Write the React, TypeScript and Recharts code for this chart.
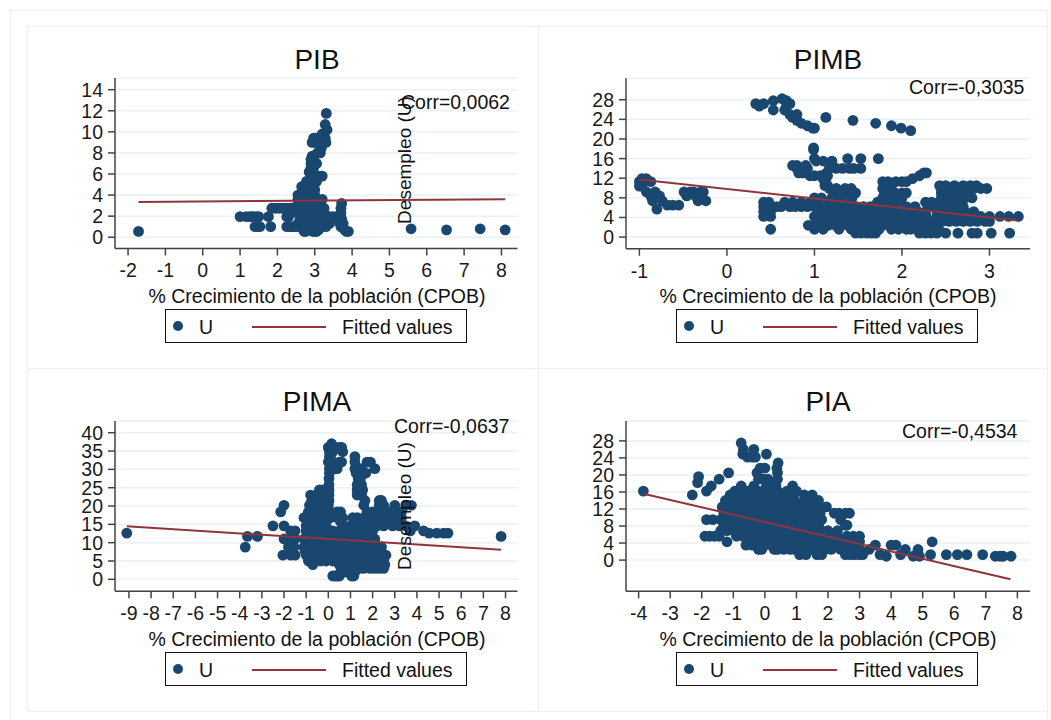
import React from 'react';
import { ScatterChart, Scatter, XAxis, YAxis, CartesianGrid } from 'recharts';

type Rows = [number, number[]][];
const FONT = '"Liberation Sans", Arial, sans-serif';
const NAVY = '#1a476f';
const MAROON = '#90353b';
const PALE = '#eaf2f3';

const panelTitles = ['PIB', 'PIMB', 'PIMA', 'PIA'];
const corrLabels = ['Corr=0,0062', 'Corr=-0,3035', 'Corr=-0,0637', 'Corr=-0,4534'];
const xAxisTitle = '% Crecimiento de la población (CPOB)';
const yAxisTitle = 'Desempleo (U)';
const legendLabels = ['U', 'Fitted values'];

const pibXTicks = [-2, -1, 0, 1, 2, 3, 4, 5, 6, 7, 8];
const pibYTicks = [0, 2, 4, 6, 8, 10, 12, 14];
const pimbXTicks = [-1, 0, 1, 2, 3];
const pimbYTicks = [0, 4, 8, 12, 16, 20, 24, 28];
const pimaXTicks = [-9, -8, -7, -6, -5, -4, -3, -2, -1, 0, 1, 2, 3, 4, 5, 6, 7, 8];
const pimaYTicks = [0, 5, 10, 15, 20, 25, 30, 35, 40];
const piaXTicks = [-4, -3, -2, -1, 0, 1, 2, 3, 4, 5, 6, 7, 8];
const piaYTicks = [0, 4, 8, 12, 16, 20, 24, 28];

const pibFitX = [-1.72, 8.1];
const pibFitY = [3.35, 3.6];
const pimbFitX = [-1, 3.32];
const pimbFitY = [11.75, 3.4];
const pimaFitX = [-9.1, 7.8];
const pimaFitY = [14.45, 8.1];
const piaFitX = [-3.85, 7.78];
const piaFitY = [15.6, -4.5];

// each row: [U, list of CPOB values read at that height]
const pibRows: Rows = [
  [0.55, [-1.72, 2.72, 2.75, 2.95, 3.0, 3.05, 3.85, 3.9]],
  [0.7, [6.53, 8.1, 2.7, 2.9, 3.1, 3.8]],
  [0.8, [5.58, 7.43]],
  [1.0, [1.4, 1.47, 1.53, 1.82, 2.25, 2.33, 2.4, 2.5, 2.6, 2.7, 2.8, 2.9, 3.0, 3.1, 3.2, 3.3, 3.7, 3.75]],
  [1.3, [2.55, 2.65, 2.8, 2.95, 3.1, 3.25, 3.4, 3.68, 3.76]],
  [1.7, [2.65, 2.8, 2.95, 3.1, 3.25, 3.68, 3.72]],
  [1.95, [1.0, 1.17, 1.27, 1.33, 1.43, 1.5, 1.76, 2.25, 2.3, 2.6, 2.75, 2.9, 3.05, 3.2, 3.3, 3.4, 3.5, 3.6, 3.7]],
  [2.3, [2.55, 2.7, 2.85, 3.0, 3.15, 3.25, 3.7]],
  [2.75, [1.85, 1.95, 2.05, 2.15, 2.25, 2.35, 2.45, 2.55, 2.7, 2.85, 3.0, 3.15, 3.25, 3.7]],
  [3.2, [2.55, 2.7, 2.85, 3.0, 3.15, 3.72]],
  [3.6, [2.55, 2.7, 2.85, 3.0, 3.2]],
  [4.0, [2.55, 2.65, 2.8, 2.95, 3.0]],
  [4.5, [2.75, 2.9, 3.0]],
  [4.8, [2.65, 2.72, 2.95]],
  [5.3, [2.78, 2.95, 3.05]],
  [5.8, [2.9, 3.0, 3.1, 3.2]],
  [6.2, [2.85, 2.95]],
  [6.6, [2.9, 2.97]],
  [7.0, [2.9, 3.0, 3.05]],
  [7.4, [2.9, 2.95]],
  [7.7, [2.93, 2.98]],
  [8.0, [3.07, 3.15]],
  [8.5, [3.18]],
  [9.0, [2.93, 3.0, 3.05, 3.2, 3.3]],
  [9.4, [2.97, 3.05, 3.15, 3.28]],
  [9.8, [3.2]],
  [10.2, [3.33]],
  [10.7, [3.28]],
  [11.75, [3.31]],
];

const pimbRows: Rows = [
  [0.8, [1.47, 1.53, 1.6, 1.65, 1.7, 2.2, 2.27, 2.33, 2.4, 2.5, 2.64, 2.8, 2.86, 3.02, 3.23]],
  [1.6, [0.5, 1.0, 1.1, 1.28, 1.42, 1.5, 1.58, 1.66, 1.74, 1.88, 1.96, 2.05, 2.1, 2.18, 2.26, 2.34, 2.42]],
  [2.4, [0.93, 1.0, 1.08, 1.16, 1.24, 1.3, 1.38, 1.46, 1.54, 1.62, 1.7, 1.78, 1.86, 1.94, 2.02, 2.1, 2.18, 2.26, 2.34]],
  [3.2, [1.02, 1.1, 1.18, 1.26, 1.34, 1.42, 1.5, 1.58, 1.66, 1.74, 1.82, 1.9, 1.98, 2.06, 2.14, 2.22, 2.3, 2.38, 2.46, 2.54, 2.62, 2.7, 2.78, 2.86, 2.95, 3.0]],
  [4.2, [0.42, 0.5, 1.0, 1.08, 1.16, 1.24, 1.32, 1.4, 1.48, 1.56, 1.64, 1.72, 1.8, 1.88, 1.96, 2.04, 2.12, 2.2, 2.28, 2.4, 2.48, 2.56, 2.64, 2.72, 2.8, 2.9, 3.0, 3.12, 3.22, 3.33]],
  [5.2, [0.42, 0.5, 1.05, 1.13, 1.21, 1.29, 1.37, 1.45, 1.53, 1.61, 1.69, 1.77, 1.85, 1.93, 2.01, 2.1, 2.18, 2.27, 2.4, 2.48, 2.56, 2.64, 2.72, 2.82]],
  [6.2, [0.42, 0.5, 0.57, 0.62, 0.72, 0.78, 0.85, 0.92, 1.0, 1.08, 1.16, 1.24, 1.32, 1.4, 1.48, 1.56, 1.64, 1.72, 1.8, 1.88, 2.05, 2.15, 2.3, 2.38, 2.46, 2.54, 2.62, 2.7]],
  [7.1, [0.42, 0.48, 0.66, 0.75, 0.85, 0.95, 1.03, 1.12, 1.2, 1.3, 1.4, 1.72, 1.8, 1.95, 2.27, 2.34, 2.42, 2.5, 2.56, 2.68]],
  [8.0, [1.0, 1.08, 1.2, 1.3, 1.43, 1.78, 1.9, 2.0, 2.45, 2.53, 2.62, 2.72, 2.8]],
  [9.0, [1.27, 1.35, 1.4, 1.47, 1.8, 1.92, 2.0, 2.05, 2.45, 2.52, 2.6, 2.68, 2.76]],
  [9.9, [1.17, 1.25, 1.35, 1.42, 1.78, 1.87, 2.45, 2.52, 2.6, 2.68, 2.75, 2.82, 2.9, 2.97]],
  [10.5, [1.12, 1.15, 1.83, 1.88, 2.43, 2.5, 2.6, 2.7, 2.78, 2.85]],
  [11.3, [-1.0, -0.87, 1.12, 1.78, 1.84, 1.93, 2.0, 2.05]],
  [11.9, [-0.97, -0.92, 1.1, 1.13, 2.12]],
  [12.5, [0.95, 1.0, 1.07, 1.15, 2.2]],
  [13.1, [0.82, 0.87, 1.14, 2.25, 2.28]],
  [14.0, [0.8, 0.92, 1.17, 1.25, 1.32, 1.4, 1.45, 1.53]],
  [14.6, [0.75, 0.8, 0.9, 1.18]],
  [15.5, [1.02, 1.1, 1.2]],
  [16.0, [1.0, 1.38, 1.53, 1.73]],
  [17.8, [0.99]],
  [18.2, [0.99]],
  [10.4, [-1.0, -0.97]],
  [9.2, [-0.92, -0.82, -0.49, -0.42, -0.38, -0.3, -0.27]],
  [8.4, [-0.87, -0.77, -0.46, -0.36]],
  [7.4, [-0.85, -0.74, -0.33, -0.24]],
  [6.5, [-0.68, -0.62, -0.55]],
  [5.7, [-0.8]],
  [21.7, [2.1]],
  [22.2, [0.98, 1.0, 1.99]],
  [22.7, [0.92, 1.88]],
  [23.2, [0.85, 1.7]],
  [23.8, [0.8, 1.44]],
  [24.4, [0.75, 1.13]],
  [25.0, [0.72, 0.8]],
  [25.9, [0.53, 0.66]],
  [26.7, [0.37, 0.68]],
  [27.2, [0.33, 0.42, 0.72]],
  [27.8, [0.53, 0.68]],
  [28.2, [0.63]],
];

const pimaRows: Rows = [
  [0.9, [0.2, 0.3, 0.4, 0.5, 1.05, 1.15]],
  [2.0, [0.55, 0.7, 0.85, 1.0, 1.2]],
  [3.0, [0.65, 0.85, 1.0, 1.2, 1.4, 1.6, 1.9, 2.1, 2.3, 2.5]],
  [4.0, [-0.7, 0.5, 0.75, 1.1, 1.45, 1.75, 2.0, 2.4, 2.55]],
  [5.0, [-0.9, -0.6, -0.35, -0.1, 0.2, 0.5, 0.8, 1.0, 1.3, 1.6, 1.9, 2.2, 2.5]],
  [5.8, [-0.75, -0.2, 0.35, 0.65, 1.15, 1.45, 1.75, 2.05, 2.35]],
  [6.6, [-2.05, -1.7, -1.5, -1.0, -0.7, -0.4, -0.1, 0.2, 0.5, 0.8, 1.1, 1.4, 1.7, 2.0, 2.3, 2.6]],
  [7.7, [-1.05, -0.65, -0.35, -0.05, 0.25, 0.55, 0.85, 1.15, 1.45, 1.75, 2.05]],
  [8.8, [-3.75, -1.8, -1.55, -1.1, -0.8, -0.5, -0.2, 0.1, 0.4, 0.7, 1.0, 1.3, 1.6, 1.9, 2.2, 2.4]],
  [9.9, [-1.6, -0.95, -0.65, -0.35, -0.05, 0.25, 0.55, 0.85, 1.15, 1.45, 1.75, 2.05]],
  [11.0, [-2.0, -1.7, -1.5, -1.1, -0.8, -0.5, -0.2, 0.1, 0.4, 0.7, 1.0, 1.3, 1.6, 1.9, 2.1]],
  [11.7, [-3.65, -3.2, 7.8, -0.95, -0.35, 0.25, 0.85, 1.45]],
  [12.6, [-9.1, 4.55, 4.9, 5.2, 5.4, -0.65, -0.05, 0.55, 1.15, 1.75]],
  [13.2, [-1.7, -1.5, -1.0, -0.7, -0.4, -0.1, 0.2, 0.5, 0.8, 1.1, 1.4, 1.7, 2.0, 3.7, 4.3]],
  [14.6, [-2.5, -2.0, -1.0, -0.7, -0.4, -0.1, 0.7, 1.0, 1.3, 1.6, 1.9, 2.2, 2.5, 2.9, 3.2, 3.5, 3.9]],
  [15.8, [-0.85, -0.55, -0.25, 0.55, 1.45, 1.75, 2.05, 2.6, 2.85]],
  [16.8, [-1.1, -0.8, -0.5, -0.2, 0.1, 0.4, 0.65, 1.1, 1.3, 1.6, 1.85, 2.1, 2.4, 2.7, 3.0, 3.3]],
  [18.4, [-2.15, -0.9, -0.65, -0.4, -0.15, 0.1, 0.4, 0.55, 1.75, 2.0, 2.3, 2.7, 3.0, 3.3]],
  [20.2, [-2.0, -0.85, -0.6, -0.35, -0.1, 0.0, 1.6, 2.3, 2.5, 3.0, 3.5, 3.75]],
  [21.5, [-0.75, -0.5, -0.3, 0.03, 1.65, 2.3, 2.4]],
  [23.0, [-0.8, -0.55, -0.3, -0.15, 0.03, 1.3, 1.5]],
  [24.4, [-0.4, -0.25, 0.03, 1.3, 1.55]],
  [25.8, [0.03, 1.3, 1.5]],
  [27.5, [0.03, 1.35, 1.45]],
  [29.0, [0.05, 1.6, 1.7, 1.25]],
  [30.2, [0.05, 0.3, 0.4, 1.2, 1.3, 1.5, 2.1]],
  [32.0, [0.0, 0.15, 0.5, 0.6, 1.2, 1.75, 1.9]],
  [33.5, [0.05, 0.1, 1.2]],
  [34.8, [0.05, 0.2, 0.65]],
  [36.0, [0.0, 0.1, 0.2, 0.3, 0.5, 0.6]],
  [37.0, [0.15]],
];

const piaRows: Rows = [
  [0.9, [3.85, 4.7, 4.9, 7.3, 7.45, 7.55, 7.8]],
  [1.3, [1.1, 1.3, 1.65, 1.8, 2.55, 2.7, 2.85, 3.0, 3.1, 3.65, 4.3, 5.25, 5.75, 6.1, 6.4, 6.9]],
  [2.5, [-0.2, -0.1, 0.3, 0.4, 0.6, 0.8, 0.95, 1.1, 1.3, 1.5, 1.7, 1.9, 2.1, 2.4, 2.5, 2.6, 2.75, 3.0, 3.3, 4.45, 4.85]],
  [3.5, [-0.6, -0.4, -0.2, 0.0, 0.2, 0.4, 0.6, 0.8, 1.0, 1.2, 1.4, 1.6, 1.8, 2.0, 2.2, 2.4, 2.6, 3.5, 4.0, 4.15]],
  [4.3, [-1.2, -0.5, -0.3, -0.1, 0.1, 0.3, 0.5, 0.7, 0.9, 1.1, 1.3, 1.5, 1.7, 1.9, 2.1, 2.5, 2.7, 2.9, 3.0, 5.3]],
  [5.6, [-1.9, -1.75, -1.6, -1.45, -0.9, -0.7, -0.5, -0.3, -0.1, 0.1, 0.3, 0.5, 0.7, 0.9, 1.1, 1.3, 1.5, 1.7, 1.9, 2.1, 2.3, 2.6, 2.8, 3.0]],
  [6.9, [-1.4, -1.2, -1.0, -0.8, -0.6, -0.4, -0.2, 0.0, 0.2, 0.4, 0.6, 0.8, 1.0, 1.2, 1.4, 1.6, 1.8, 2.0, 2.3]],
  [8.2, [-1.3, -1.1, -0.9, -0.7, -0.5, -0.3, -0.1, 0.1, 0.3, 0.5, 0.7, 0.9, 1.1, 1.3, 1.5, 1.7, 2.55, 2.6]],
  [9.5, [-1.85, -1.65, -1.4, -1.2, -1.0, -0.8, -0.6, -0.4, -0.2, 0.0, 0.2, 0.4, 0.6, 0.8, 1.0, 1.2, 1.4, 1.6, 1.8, 2.4]],
  [11.0, [-1.3, -1.1, -0.9, -0.7, -0.5, -0.3, -0.1, 0.1, 0.3, 0.5, 0.7, 0.9, 1.1, 1.35, 1.6, 1.75, 2.2, 2.35, 2.55, 2.68]],
  [12.5, [-1.35, -1.15, -0.95, -0.75, -0.55, -0.35, -0.15, 0.05, 0.25, 0.45, 0.65, 0.85, 1.05, 1.25, 1.45, 1.7, 1.95]],
  [14.0, [-1.25, -1.05, -0.85, -0.65, -0.45, -0.25, -0.05, 0.15, 0.35, 0.55, 0.75, 0.95, 1.25, 1.5, 1.7]],
  [15.3, [-2.3, -1.1, -0.9, -0.7, -0.5, -0.3, -0.1, 0.1, 0.3, 0.5, 0.7, 0.9, 1.25, 1.5]],
  [16.2, [-3.85, -1.85, -0.95, -0.75, -0.55, -0.4, -0.2, 0.0, 0.2, 0.4, 0.7, 0.85, 1.0]],
  [17.4, [-1.7, -0.75, -0.35, 0.05, 0.2, 0.35, 0.88]],
  [18.2, [-2.13]],
  [19.0, [-1.45, -0.2, -0.05, 0.1, 0.4]],
  [19.6, [-2.1]],
  [20.5, [-1.15, -0.25, 0.4]],
  [21.6, [-0.15, 0.0, 0.38]],
  [22.8, [0.42]],
  [24.2, [-0.55, -0.4, -0.3]],
  [24.9, [-0.7, 0.05]],
  [26.0, [-0.68, -0.35]],
  [27.5, [-0.75]],
];

const flatten = (rows: Rows) => rows.flatMap(([y, xs]) => xs.map((x) => ({ x, y })));
const zip = (xs: number[], ys: number[]) => xs.map((x, i) => ({ x, y: ys[i] }));

const W = 1051;
const H = 720;
const YW = 80;
const XH = 80;

function Panel(props: {
  rows: Rows; fitX: number[]; fitY: number[]; xTicks: number[]; yTicks: number[];
  xDomain: [number, number]; yDomain: [number, number];
  left: number; right: number; top: number; bottom: number;
}) {
  const { rows, fitX, fitY, xTicks, yTicks, xDomain, yDomain, left, right, top, bottom } = props;
  const tick = { fontSize: 19.5, fill: '#1a1a1a', fontFamily: FONT };
  return (
    <div style={{ position: 'absolute', left: 0, top: 0 }}>
      <ScatterChart width={W} height={H} margin={{ left: left - YW, right: W - right, top, bottom: H - bottom - XH }}>
        <CartesianGrid vertical={false} stroke={PALE} strokeWidth={1.5} />
        <XAxis type="number" dataKey="x" domain={xDomain} ticks={xTicks} interval={0} height={XH} allowDataOverflow
          tick={tick} tickSize={7} tickMargin={8} stroke="#444" strokeWidth={1.5} />
        <YAxis type="number" dataKey="y" domain={yDomain} ticks={yTicks} interval={0} width={YW} allowDataOverflow
          tick={tick} tickSize={7} tickMargin={5} stroke="#444" strokeWidth={1.5} />
        <Scatter data={flatten(rows)} fill={NAVY} isAnimationActive={false}
          shape={(p: any) => <circle cx={p.cx} cy={p.cy} r={5.4} fill={NAVY} />} />
        <Scatter data={zip(fitX, fitY)} isAnimationActive={false} line={{ stroke: MAROON, strokeWidth: 2 }}
          shape={() => <g />} />
      </ScatterChart>
    </div>
  );
}

const abs = (s: React.CSSProperties): React.CSSProperties => ({
  position: 'absolute', fontFamily: FONT, color: '#111', whiteSpace: 'nowrap', lineHeight: 1, ...s,
});

function Legend({ x, y }: { x: number; y: number }) {
  return (
    <div style={{ position: 'absolute', left: x, top: y, width: 302, height: 34, boxSizing: 'border-box', border: '1.5px solid #111', background: '#fff' }}>
      <div style={{ position: 'absolute', left: 7, top: 11, width: 10, height: 10, borderRadius: 5, background: NAVY }} />
      <div style={abs({ left: 33, top: 8, fontSize: 19.5 })}>{legendLabels[0]}</div>
      <div style={{ position: 'absolute', left: 86, top: 16, width: 74, height: 2, background: MAROON }} />
      <div style={abs({ left: 176, top: 8, fontSize: 19.5 })}>{legendLabels[1]}</div>
    </div>
  );
}

function Centered({ cx, cy, size, text }: { cx: number; cy: number; size: number; text: string }) {
  return <div style={abs({ left: cx, top: cy, fontSize: size, transform: 'translate(-50%,-50%)' })}>{text}</div>;
}

const frame = (l: number, t: number, w: number, h: number): React.CSSProperties => ({
  position: 'absolute', left: l, top: t, width: w, height: h, boxSizing: 'border-box', border: `1.5px solid ${PALE}`,
});

export default function App() {
  return (
    <div style={{ position: 'absolute', left: 0, top: 0, width: W, height: H, overflow: 'hidden', background: '#fff' }}>
      <div style={frame(10, 10, 1038, 730)} />
      <div style={frame(27, 26, 512, 343)} />
      <div style={frame(538, 26, 510, 343)} />
      <div style={frame(27, 368, 512, 344)} />
      <div style={frame(538, 368, 510, 344)} />

      <Panel rows={pibRows} fitX={pibFitX} fitY={pibFitY} xTicks={pibXTicks} yTicks={pibYTicks}
        xDomain={[-2.35, 8.43]} yDomain={[-1.07, 15.11]} left={115} right={517.5} top={78} bottom={248.5} />
      <Panel rows={pimbRows} fitX={pimbFitX} fitY={pimbFitY} xTicks={pimbXTicks} yTicks={pimbYTicks}
        xDomain={[-1.153, 3.463]} yDomain={[-2.37, 32.37]} left={626} right={1030} top={78.3} bottom={248.7} />
      <Panel rows={pimaRows} fitX={pimaFitX} fitY={pimaFitY} xTicks={pimaXTicks} yTicks={pimaYTicks}
        xDomain={[-9.63, 8.54]} yDomain={[-3.27, 43.2]} left={115} right={517.5} top={421} bottom={591.3} />
      <Panel rows={piaRows} fitX={piaFitX} fitY={piaFitY} xTicks={piaXTicks} yTicks={piaYTicks}
        xDomain={[-4.4, 8.4]} yDomain={[-7.33, 32.67]} left={626} right={1030} top={421} bottom={591.3} />

      <Centered cx={317} cy={60} size={28} text={panelTitles[0]} />
      <Centered cx={828} cy={60} size={28} text={panelTitles[1]} />
      <Centered cx={317} cy={402} size={28} text={panelTitles[2]} />
      <Centered cx={828} cy={402} size={28} text={panelTitles[3]} />

      <div style={abs({ left: 401, top: 93, fontSize: 19.5 })}>{corrLabels[0]}</div>
      <div style={abs({ left: 909, top: 78, fontSize: 19.5 })}>{corrLabels[1]}</div>
      <div style={abs({ left: 394, top: 417, fontSize: 19.5 })}>{corrLabels[2]}</div>
      <div style={abs({ left: 902, top: 422, fontSize: 19.5 })}>{corrLabels[3]}</div>

      <Centered cx={317} cy={297} size={19.5} text={xAxisTitle} />
      <Centered cx={828} cy={297} size={19.5} text={xAxisTitle} />
      <Centered cx={317} cy={640} size={19.5} text={xAxisTitle} />
      <Centered cx={828} cy={640} size={19.5} text={xAxisTitle} />

      <div style={abs({ left: 404, top: 160, fontSize: 19, transform: 'translate(-50%,-50%) rotate(-90deg)' })}>{yAxisTitle}</div>
      <div style={abs({ left: 404, top: 506, fontSize: 19, transform: 'translate(-50%,-50%) rotate(-90deg)' })}>{yAxisTitle}</div>

      <Legend x={165} y={309} />
      <Legend x={676} y={309} />
      <Legend x={165} y={652} />
      <Legend x={676} y={652} />
    </div>
  );
}
